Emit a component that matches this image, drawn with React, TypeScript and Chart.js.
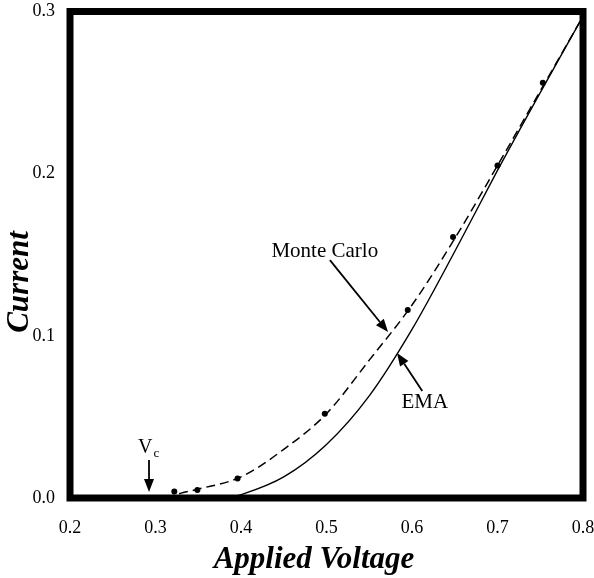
import React, { useEffect, useRef } from 'react';
import { Chart, registerables } from 'chart.js';

Chart.register(...registerables);

// Monte Carlo simulation points
const mcVoltage = [0.322, 0.349, 0.396, 0.498, 0.595, 0.648, 0.7, 0.753];
const mcCurrent = [0.004, 0.005, 0.012, 0.052, 0.116, 0.161, 0.205, 0.256];

// Monte Carlo fitted (dashed) curve
const mcFitVoltage = [0.312, 0.33, 0.35, 0.4, 0.45, 0.5, 0.55, 0.6, 0.65, 0.7, 0.75, 0.8];
const mcFitCurrent = [0.0, 0.003, 0.0055, 0.013, 0.03, 0.052, 0.085, 0.119, 0.16, 0.205, 0.251, 0.297];

// EMA (solid) curve
const emaVoltage = [0.385, 0.4, 0.45, 0.5, 0.55, 0.6, 0.65, 0.7, 0.75, 0.8];
const emaCurrent = [0.0, 0.002, 0.013, 0.033, 0.063, 0.104, 0.152, 0.202, 0.25, 0.297];

// Axis ranges
const xMin = 0.2;
const xMax = 0.8;
const yMin = 0.0;
const yMax = 0.3;
const tickStep = 0.1;

const xTitle = 'Applied Voltage';
const yTitle = 'Current';

// Annotations anchored in data coordinates
const mcLabel = { text: 'Monte Carlo', x: 0.498, y: 0.1486 };
const mcArrow = { x0: 0.504, y0: 0.1467, x1: 0.572, y1: 0.1023 };
const emaLabel = { text: 'EMA', x: 0.615, y: 0.0555 };
const emaArrow = { x0: 0.612, y0: 0.066, x1: 0.5825, y1: 0.0894 };
const vcLabel = { main: 'V', sub: 'c', x: 0.2795, y: 0.0277 };
const vcArrow = { x0: 0.2924, y0: 0.0234, x1: 0.2924, y1: 0.0037 };

const toPts = (xs: number[], ys: number[]) => xs.map((x, i) => ({ x, y: ys[i] }));

function drawArrow(ctx: CanvasRenderingContext2D, x0: number, y0: number, x1: number, y1: number) {
  const ang = Math.atan2(y1 - y0, x1 - x0);
  const len = 13;
  const hw = 5;
  const bx = x1 - len * Math.cos(ang);
  const by = y1 - len * Math.sin(ang);
  ctx.beginPath();
  ctx.moveTo(x0, y0);
  ctx.lineTo(bx, by);
  ctx.lineWidth = 1.8;
  ctx.strokeStyle = '#000';
  ctx.stroke();
  ctx.beginPath();
  ctx.moveTo(x1, y1);
  ctx.lineTo(bx + hw * Math.sin(ang), by - hw * Math.cos(ang));
  ctx.lineTo(bx - hw * Math.sin(ang), by + hw * Math.cos(ang));
  ctx.closePath();
  ctx.fillStyle = '#000';
  ctx.fill();
}

const framePlugin = {
  id: 'frameAndNotes',
  afterDatasetsDraw(chart: any) {
    const { ctx, chartArea: a, scales } = chart;
    const sx = (v: number) => scales.x.getPixelForValue(v);
    const sy = (v: number) => scales.y.getPixelForValue(v);
    ctx.save();
    // frame
    ctx.lineWidth = 7;
    ctx.strokeStyle = '#000';
    ctx.lineJoin = 'miter';
    ctx.strokeRect(a.left, a.top, a.right - a.left, a.bottom - a.top);

    // annotations
    ctx.fillStyle = '#000';
    ctx.textBaseline = 'alphabetic';
    ctx.font = '21px "Liberation Serif", "Times New Roman", serif';
    ctx.textAlign = 'center';
    ctx.fillText(mcLabel.text, sx(mcLabel.x), sy(mcLabel.y));
    ctx.fillText(emaLabel.text, sx(emaLabel.x), sy(emaLabel.y));
    drawArrow(ctx, sx(mcArrow.x0), sy(mcArrow.y0), sx(mcArrow.x1), sy(mcArrow.y1));
    drawArrow(ctx, sx(emaArrow.x0), sy(emaArrow.y0), sx(emaArrow.x1), sy(emaArrow.y1));

    ctx.textAlign = 'left';
    ctx.font = '20px "Liberation Serif", "Times New Roman", serif';
    const vx = sx(vcLabel.x);
    const vy = sy(vcLabel.y);
    ctx.fillText(vcLabel.main, vx, vy);
    const vw = ctx.measureText(vcLabel.main).width;
    ctx.font = '13px "Liberation Serif", "Times New Roman", serif';
    ctx.fillText(vcLabel.sub, vx + vw + 1, vy + 4);
    drawArrow(ctx, sx(vcArrow.x0), sy(vcArrow.y0), sx(vcArrow.x1), sy(vcArrow.y1));

    // axis titles
    ctx.font = 'bold italic 31px "Liberation Serif", "Times New Roman", serif';
    ctx.textAlign = 'center';
    ctx.fillText(xTitle, a.left + 244, 568);
    ctx.save();
    ctx.translate(28, 282);
    ctx.rotate(-Math.PI / 2);
    ctx.fillText(yTitle, 0, 0);
    ctx.restore();

    ctx.restore();
  },
};

export default function App() {
  const ref = useRef<HTMLCanvasElement | null>(null);
  useEffect(() => {
    if (!ref.current) return;
    const tickFont = { family: '"Liberation Serif", "Times New Roman", serif', size: 18 };
    const chart = new Chart(ref.current, {
      type: 'scatter',
      data: {
        datasets: [
          {
            label: 'Monte Carlo fit',
            data: toPts(mcFitVoltage, mcFitCurrent),
            showLine: true,
            borderColor: '#000',
            borderWidth: 1.5,
            borderDash: [9, 5],
            pointRadius: 0,
            cubicInterpolationMode: 'monotone',
          },
          {
            label: 'EMA',
            data: toPts(emaVoltage, emaCurrent),
            showLine: true,
            borderColor: '#000',
            borderWidth: 1.4,
            pointRadius: 0,
            cubicInterpolationMode: 'monotone',
          },
          {
            label: 'Monte Carlo',
            data: toPts(mcVoltage, mcCurrent),
            showLine: false,
            pointRadius: 3,
            pointBackgroundColor: '#000',
            pointBorderColor: '#000',
            pointBorderWidth: 0,
          },
        ],
      },
      options: {
        responsive: false,
        animation: false,
        events: [],
        layout: { padding: { top: 11.5, right: 11, left: 0, bottom: 0 } },
        plugins: { legend: { display: false }, tooltip: { enabled: false } },
        scales: {
          x: {
            type: 'linear',
            min: xMin,
            max: xMax,
            grid: { display: false },
            border: { display: false },
            ticks: {
              stepSize: tickStep,
              color: '#000',
              font: tickFont,
              padding: 11,
              maxRotation: 0,
              callback: (v: any) => Number(v).toFixed(1),
            },
            afterFit: (s: any) => {
              s.height = 80;
              s.paddingLeft = 0;
              s.paddingRight = 0;
            },
          },
          y: {
            type: 'linear',
            min: yMin,
            max: yMax,
            grid: { display: false },
            border: { display: false },
            ticks: {
              stepSize: tickStep,
              color: '#000',
              font: tickFont,
              padding: 7,
              callback: (v: any) => Number(v).toFixed(1),
            },
            afterFit: (s: any) => {
              s.width = 70;
              s.paddingTop = 0;
              s.paddingBottom = 0;
            },
          },
        },
      },
      plugins: [framePlugin],
    } as any);
    return () => chart.destroy();
  }, []);

  return (
    <div style={{ position: 'fixed', left: 0, top: 0, width: 594, height: 578, background: '#fff' }}>
      <canvas ref={ref} width={594} height={578} style={{ display: 'block' }} />
    </div>
  );
}
